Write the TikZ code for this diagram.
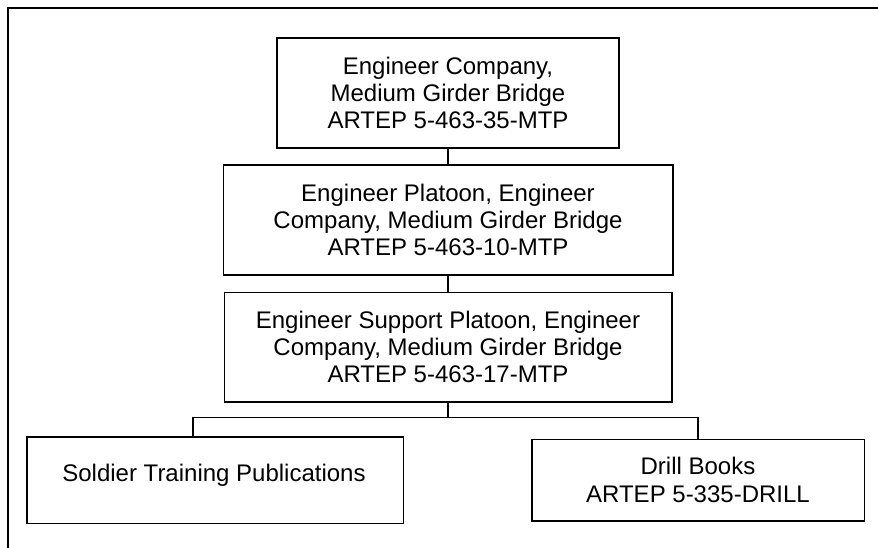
\documentclass[tikz,border=0pt]{standalone}
\usepackage{fontspec}
\setmainfont{Liberation Sans}
\begin{document}
\begin{tikzpicture}[x=1pt,y=-1pt,
  txt/.style={font=\fontsize{24}{27.4}\selectfont},
  box/.style={draw=black,line width=1.5pt,rectangle,inner sep=0pt,align=center,txt},
  conn/.style={draw=black,line width=1.5pt},
  frameline/.style={draw=black,line width=2.6pt}]
\useasboundingbox (0,0) rectangle (878,548);
\coordinate (fa) at (8,548);
\coordinate (fb) at (8,8);
\coordinate (fc) at (878,8);
\draw[frameline] (fa) -- (fb) -- (fc);
\node[box,minimum width=342pt,minimum height=110pt] (b1) at (448,93)
  {Engineer Company,\\Medium Girder Bridge\\ARTEP 5-463-35-MTP};
\node[box,minimum width=449.5pt,minimum height=109.5pt] (b2) at (448,220)
  {Engineer Platoon, Engineer\\Company, Medium Girder Bridge\\ARTEP 5-463-10-MTP};
\node[box,minimum width=447.5pt,minimum height=109.5pt] (b3) at (448,347)
  {Engineer Support Platoon, Engineer\\Company, Medium Girder Bridge\\ARTEP 5-463-17-MTP};
\node[box,minimum width=376.5pt,minimum height=86.5pt] (b4) at (215,480) {};
\node[txt,inner sep=0pt] (t4) at (214,475) {Soldier Training Publications};
\node[box,minimum width=332.5pt,minimum height=81.5pt] (b5) at (698,480)
  {Drill Books\\ARTEP 5-335-DRILL};
\coordinate (bus) at (448,417.7);
\draw[conn] (b1.south) -- (b2.north);
\draw[conn] (b2.south) -- (b3.north);
\draw[conn] (b3.south) -- (bus);
\draw[conn] (bus) -| (b4.north -| 193,0);
\draw[conn] (bus) -| (b5.north);
\end{tikzpicture}
\end{document}
